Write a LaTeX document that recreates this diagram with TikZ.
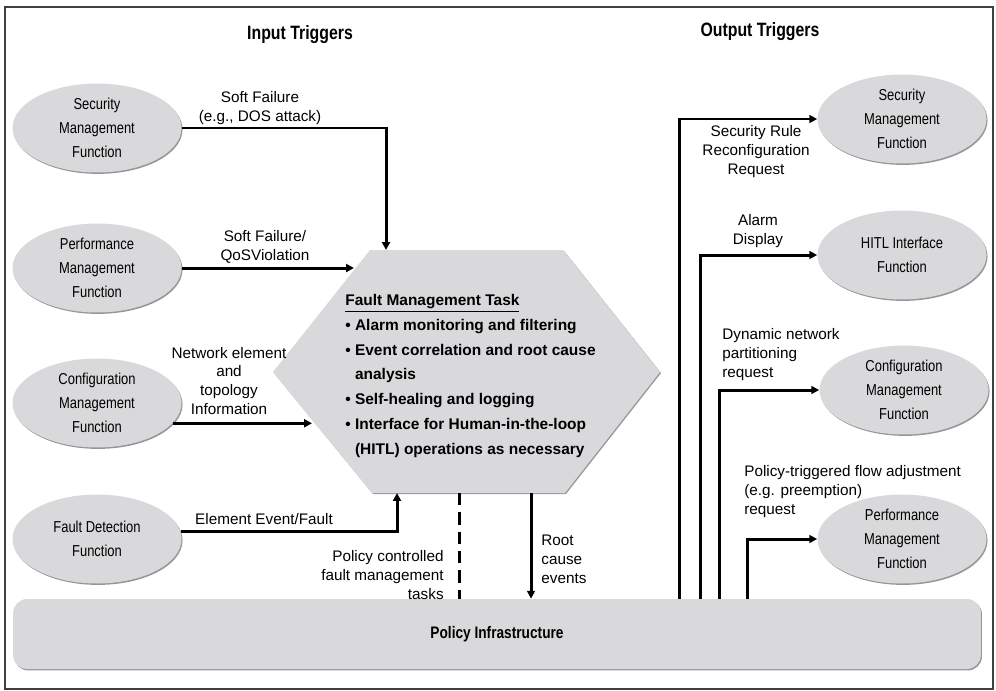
\documentclass[tikz,border=0pt]{standalone}
\usepackage{fontspec}
\setmainfont{Liberation Sans}
\newfontfamily\narrowfont[FakeStretch=0.82]{Liberation Sans}
\usepackage{tikz}
\usetikzlibrary{positioning,arrows.meta,shapes.geometric,shadows}
\usepackage{xcolor}
\definecolor{FMGray}{RGB}{217,217,219}
\definecolor{FMRim}{RGB}{150,150,152}

\begin{document}
\begin{tikzpicture}[
x=0.02cm, y=-0.02cm,
func/.style={
ellipse,
fill=FMGray,
drop shadow={shadow xshift=0.6pt,shadow yshift=-0.8pt,fill=FMRim,opacity=1},
minimum width=3.38cm,
minimum height=1.78cm,
inner sep=0pt,
align=center,
font=\narrowfont\fontsize{9}{13.7}\selectfont
},
label/.style={
align=center,
inner sep=0pt,
font=\fontsize{8.7}{10.8}\selectfont
},
head/.style={
font=\narrowfont\bfseries\fontsize{11}{13}\selectfont
},
arrow/.style={
-{Triangle[length=4.5pt,width=4.5pt]},
line width=1.7pt,
draw=black
},
line/.style={
line width=1.7pt,
draw=black
}
]

% frame and margins
\useasboundingbox (0,0) rectangle (996,690);
\draw[line width=0.8pt,black!75] (5,7) rectangle (993,689);

\node[head] (in) at (300,35) {Input Triggers};
\node[head] (out) at (760,32) {Output Triggers};

% policy infrastructure bar
\node[rectangle,rounded corners=8pt,fill=FMGray,
drop shadow={shadow xshift=0.6pt,shadow yshift=-0.8pt,fill=FMRim,opacity=1},
minimum width=19.36cm,minimum height=1.4cm,
font=\narrowfont\bfseries\fontsize{9.5}{11}\selectfont] (pi) at (497,634) {Policy Infrastructure};

% fault management task
\fill[FMRim] (371,251) -- (564,251) -- (661,373) -- (566,494) -- (373,494) -- (274,373) -- cycle;
\fill[FMGray] (370,250) -- (563,250) -- (660,372) -- (565,493) -- (372,493) -- (273,372) -- cycle;
\node[anchor=north west,align=left,inner sep=0pt,
font=\bfseries\fontsize{8.8}{14.1}\selectfont] (fm) at (345,294)
{\underline{Fault Management Task}\\
\textbullet\ Alarm monitoring and filtering\\
\textbullet\ Event correlation and root cause\\
\hphantom{\textbullet\ }analysis\\
\textbullet\ Self-healing and logging\\
\textbullet\ Interface for Human-in-the-loop\\
\hphantom{\textbullet\ }(HITL) operations as necessary};

\coordinate (h1) at (386,250);
\coordinate (h2) at (354,270);
\coordinate (h3) at (312,423);
\coordinate (h4) at (397,493);
\coordinate (h5) at (459,493);
\coordinate (h6) at (531,493);

% input side
\node[func] (sl) at (97,128) {Security\\Management\\Function};
\node[func] (pl) at (97,268) {Performance\\Management\\Function};
\node[func] (cl) at (97,403) {Configuration\\Management\\Function};
\node[func] (fd) at (97,539) {Fault Detection\\Function};

% output side
\node[func] (sr) at (902,119) {Security\\Management\\Function};
\node[func] (hi) at (902,255) {HITL Interface\\Function};
\node[func] (cr) at (904,390) {Configuration\\Management\\Function};
\node[func] (pr) at (902,539) {Performance\\Management\\Function};

\draw[arrow] (sl.east) -| (h1);
\draw[arrow] (pl.east) -- (pl.east -| h2);
\draw[arrow] (cl.-15) -- (cl.-15 -| h3);
\draw[arrow] (fd.5) -| (h4);
\draw[line,dash pattern=on 7pt off 4pt] (h5) -- (h5 |- pi.north);
\draw[arrow] (h6) -- (h6 |- pi.north);

\coordinate (t1) at (679,599);
\coordinate (t2) at (700,599);
\coordinate (t3) at (719,599);
\coordinate (t4) at (747,599);
\draw[arrow] (t1) |- (sr);
\draw[arrow] (t2) |- (hi);
\draw[arrow] (t3) |- (cr);
\draw[arrow] (t4) |- (pr);

% connector labels
\node[label] (l1) at (260,108) {Soft Failure\\(e.g., DOS attack)};
\node[label] (l2) at (265,247) {Soft Failure/\\QoSViolation};
\node[label] (l3) at (229,381) {Network element\\and\\topology\\Information};
\node[label] (l4) at (264,519) {Element Event/Fault};
\node[label,align=right,anchor=east] (l5) at (444,575) {Policy controlled\\fault management\\tasks};
\node[label,align=left,anchor=west] (l6) at (541,559) {Root\\cause\\events};
\node[label] (l7) at (756,152) {Security Rule\\Reconfiguration\\Request};
\node[label] (l8) at (758,231) {Alarm\\Display};
\node[label,align=left,anchor=west] (l9) at (722,355) {Dynamic network\\partitioning\\request};
\node[label,align=left,anchor=west] (l10) at (744,492) {Policy-triggered flow adjustment\\(e.g. preemption)\\request};

\end{tikzpicture}
\end{document}
